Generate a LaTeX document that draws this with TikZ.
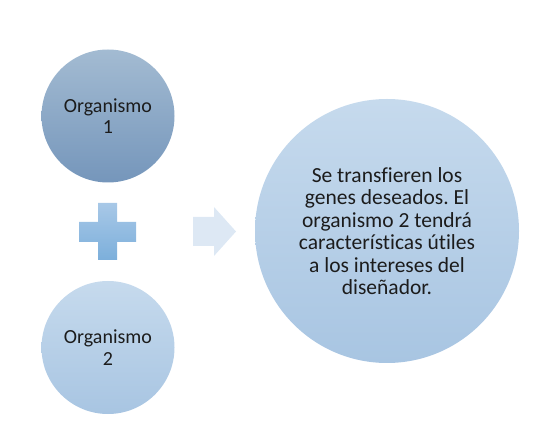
\documentclass[tikz,border=0pt]{standalone}
\usepackage{fontspec}
\setmainfont{Carlito}[Ligatures=NoCommon]
\usepackage{tikz}

\definecolor{darktop}{HTML}{A3BBD2}
\definecolor{darkbot}{HTML}{7596BB}
\definecolor{lighttop}{HTML}{C6DAED}
\definecolor{lightbot}{HTML}{A8C5E2}
\definecolor{plustop}{HTML}{A8C8E7}
\definecolor{plusbot}{HTML}{7CAFDB}
\definecolor{arrowfill}{HTML}{DDE8F4}
\definecolor{txt}{HTML}{1C1C1C}

\begin{document}
\frenchspacing
\begin{tikzpicture}[x=1pt, y=-1pt,
    organism/.style={circle, minimum size=133pt, inner sep=0pt, align=center,
      text=txt, font=\fontsize{20}{21.5}\selectfont},
    result/.style={circle, minimum size=264pt, inner sep=0pt, align=center,
      text=txt, font=\fontsize{21.5}{22.5}\selectfont, top color=lighttop, bottom color=lightbot}]
      \useasboundingbox (0, 0) rectangle (546, 435);

      \node [organism, top color=darktop, bottom color=darkbot] (org1) at (108, 116) {Organismo\\1};
      \node [organism, top color=lighttop, bottom color=lightbot] (org2) at (108, 347.5) {Organismo\\2};
      \node [result] (res) at (387, 231) {Se transfieren los\\genes deseados. El\\organismo 2 tendrá\\características útiles\\a los intereses del\\diseñador.};

      \shade [top color=plustop, bottom color=plusbot]
        (98, 203) -- (117, 203) -- (117, 222) -- (136, 222) -- (136, 242) -- (117, 242)
        -- (117, 260) -- (98, 260) -- (98, 242) -- (79, 242) -- (79, 222) -- (98, 222) -- cycle;

      \fill [arrowfill]
        (193, 217) -- (214, 217) -- (214, 207) -- (236, 231.5) -- (214, 256)
        -- (214, 246) -- (193, 246) -- cycle;
    \end{tikzpicture}
\end{document}
